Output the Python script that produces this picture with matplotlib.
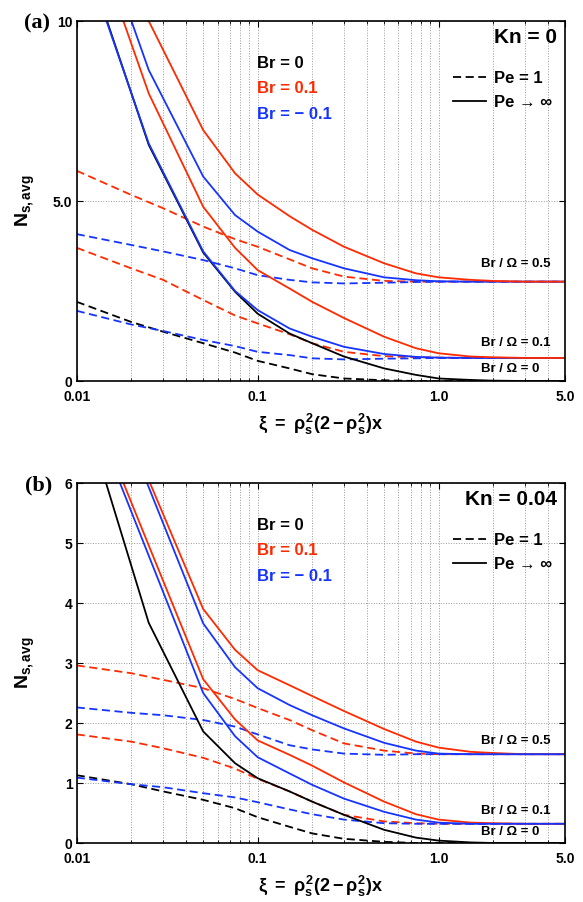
import matplotlib
matplotlib.use('Agg')
import matplotlib.pyplot as plt
from matplotlib.lines import Line2D
from matplotlib.ticker import LogLocator, NullFormatter

plt.rcParams['font.family'] = ['Liberation Sans', 'DejaVu Sans']
plt.rcParams['font.weight'] = 'bold'
plt.rcParams['mathtext.fontset'] = 'custom'
plt.rcParams['mathtext.rm'] = 'Liberation Sans:bold'
plt.rcParams['mathtext.it'] = 'Liberation Sans:bold'
plt.rcParams['mathtext.bf'] = 'Liberation Sans:bold'

RED = '#ff2a00'
BLUE = '#1634ff'

# x positions of the computed points
x_inf = [0.01, 0.025, 0.05, 0.075, 0.1, 0.15, 0.2, 0.3, 0.5, 0.75, 1.0, 1.5, 2.0, 3.0, 5.0]
x_pe1 = [0.01, 0.02, 0.03, 0.05, 0.075, 0.1, 0.15, 0.2, 0.3, 0.5, 0.75, 1.0, 1.5, 2.0, 3.0, 5.0]

# ---- (a) Kn = 0 ----
a_inf_br0 = [12.5, 6.56, 3.57, 2.48, 1.87, 1.32, 1.05, 0.68, 0.35, 0.17, 0.07, 0.03, 0.01, 0.0, 0.0]
a_inf_neg_01 = [12.4, 6.6, 3.6, 2.5, 1.97, 1.46, 1.23, 0.95, 0.75, 0.67, 0.65, 0.64, 0.64, 0.64, 0.64]
a_inf_pos_01 = [13.7, 7.99, 4.84, 3.7, 3.08, 2.57, 2.2, 1.75, 1.23, 0.91, 0.77, 0.68, 0.66, 0.64, 0.64]
a_inf_neg_05 = [14.3, 8.64, 5.68, 4.61, 4.15, 3.64, 3.41, 3.13, 2.88, 2.80, 2.77, 2.76, 2.76, 2.76, 2.76]
a_inf_pos_05 = [14.0, 10.0, 6.97, 5.77, 5.18, 4.58, 4.2, 3.73, 3.27, 2.99, 2.88, 2.81, 2.78, 2.76, 2.76]

a_pe1_br0 = [2.20, 1.64, 1.37, 1.05, 0.79, 0.56, 0.35, 0.19, 0.07, 0.02, 0.0, 0.0, 0.0, 0.0, 0.0, 0.0]
a_pe1_neg_01 = [1.95, 1.57, 1.39, 1.14, 0.97, 0.81, 0.72, 0.63, 0.60, 0.62, 0.63, 0.64, 0.64, 0.64, 0.64, 0.64]
a_pe1_pos_01 = [3.70, 3.13, 2.81, 2.25, 1.82, 1.60, 1.30, 1.05, 0.81, 0.69, 0.66, 0.65, 0.64, 0.64, 0.64, 0.64]
a_pe1_neg_05 = [4.08, 3.78, 3.60, 3.36, 3.13, 2.94, 2.81, 2.74, 2.71, 2.73, 2.75, 2.76, 2.76, 2.76, 2.76, 2.76]
a_pe1_pos_05 = [5.84, 5.17, 4.80, 4.29, 3.94, 3.73, 3.38, 3.13, 2.90, 2.78, 2.76, 2.76, 2.76, 2.76, 2.76, 2.76]

# ---- (b) Kn = 0.04 ----
b_inf_br0 = [7.6, 3.67, 1.86, 1.33, 1.08, 0.86, 0.69, 0.47, 0.22, 0.09, 0.04, 0.01, 0.0, 0.0, 0.0]
b_inf_neg_01 = [7.82, 4.79, 2.5, 1.78, 1.43, 1.16, 0.97, 0.74, 0.52, 0.39, 0.34, 0.32, 0.32, 0.32, 0.32]
b_inf_pos_01 = [7.92, 4.96, 2.73, 2.06, 1.71, 1.47, 1.29, 1.01, 0.69, 0.48, 0.39, 0.34, 0.33, 0.32, 0.32]
b_inf_neg_05 = [9.0, 5.93, 3.66, 2.93, 2.58, 2.30, 2.13, 1.91, 1.67, 1.54, 1.49, 1.48, 1.48, 1.48, 1.48]
b_inf_pos_05 = [9.2, 6.05, 3.9, 3.22, 2.88, 2.63, 2.45, 2.20, 1.90, 1.69, 1.59, 1.52, 1.50, 1.48, 1.48]

b_pe1_br0 = [1.13, 0.98, 0.86, 0.72, 0.58, 0.43, 0.27, 0.16, 0.07, 0.02, 0.0, 0.0, 0.0, 0.0, 0.0, 0.0]
b_pe1_neg_01 = [1.09, 0.98, 0.93, 0.83, 0.76, 0.68, 0.56, 0.48, 0.39, 0.33, 0.32, 0.32, 0.32, 0.32, 0.32, 0.32]
b_pe1_pos_01 = [1.81, 1.69, 1.58, 1.42, 1.24, 1.07, 0.86, 0.69, 0.47, 0.36, 0.33, 0.32, 0.32, 0.32, 0.32, 0.32]
b_pe1_neg_05 = [2.26, 2.17, 2.13, 2.05, 1.94, 1.81, 1.63, 1.56, 1.49, 1.47, 1.48, 1.48, 1.48, 1.48, 1.48, 1.48]
b_pe1_pos_05 = [2.96, 2.83, 2.72, 2.58, 2.40, 2.25, 2.05, 1.88, 1.66, 1.54, 1.49, 1.48, 1.48, 1.48, 1.48, 1.48]

x_ticks = [0.01, 0.1, 1.0, 5.0]
x_ticklabels = ['0.01', '0.1', '1.0', '5.0']
ratio_labels = ['Br / \u03a9 = 0.5', 'Br / \u03a9 = 0.1', 'Br / \u03a9 = 0']

DASH = (0, (4.5, 2.5))
LW = 1.3


def draw_panel(ax, inf_curves, pe1_curves, ymax, yticks, yticklabels, kn_text, ratio_y):
    # Pe = 1 dashed, Pe -> inf solid
    for ys, c in pe1_curves:
        ax.plot(x_pe1, ys, color=c, lw=LW, ls=DASH)
    for ys, c in inf_curves:
        ax.plot(x_inf, ys, color=c, lw=LW)

    ax.set_xscale('log')
    ax.set_xlim(0.01, 5.0)
    ax.set_ylim(0, ymax)
    ax.set_xticks(x_ticks)
    ax.set_xticklabels(x_ticklabels)
    ax.xaxis.set_minor_locator(LogLocator(base=10, subs=range(2, 10)))
    ax.xaxis.set_minor_formatter(NullFormatter())
    ax.set_yticks(yticks)
    ax.set_yticklabels(yticklabels)
    ax.tick_params(which='major', direction='in', top=True, right=True,
                   length=4, width=0.8, labelsize=10)
    ax.tick_params(axis='x', which='major', pad=6.5)
    ax.tick_params(axis='y', which='major', pad=3)
    ax.tick_params(which='minor', direction='in', top=True, right=True,
                   length=2, width=0.6)
    ax.grid(True, which='both', axis='x', ls=':', color='0.6', lw=0.7)
    ax.grid(True, which='major', axis='y', ls=':', color='0.6', lw=0.7)
    for s in ax.spines.values():
        s.set_linewidth(1.2)

    ax.set_xlabel(r'$\xi\ =\ \rho_s^2(2-\rho_s^2)x$', fontsize=13, va='top')
    ax.xaxis.set_label_coords(0.5, -0.085)
    ax.set_ylabel(r'$N_{s,avg}$', fontsize=14)
    ax.yaxis.set_label_coords(-0.082, 0.5)

    ax.text(0.984, 0.955, kn_text, transform=ax.transAxes, ha='right',
            va='center', fontsize=15, fontweight='bold')
    ax.text(0.37, 0.882, 'Br = 0', color='black', transform=ax.transAxes,
            va='center', fontsize=12, fontweight='bold')
    ax.text(0.37, 0.813, 'Br = 0.1', color=RED, transform=ax.transAxes,
            va='center', fontsize=12, fontweight='bold')
    ax.text(0.37, 0.740, 'Br = \u2212 0.1', color=BLUE, transform=ax.transAxes,
            va='center', fontsize=12, fontweight='bold')

    handles = [Line2D([], [], color='black', lw=LW, ls=DASH),
               Line2D([], [], color='black', lw=LW)]
    ax.legend(handles, ['Pe = 1', 'Pe \u2192 \u221e'], loc='upper left',
              bbox_to_anchor=(0.77, 0.862), frameon=False, fontsize=12,
              handlelength=2.0, handletextpad=0.5, labelspacing=0.55,
              borderpad=0, borderaxespad=0)

    tr = ax.get_yaxis_transform()
    for lab, yy in zip(ratio_labels, ratio_y):
        ax.text(0.828, yy, lab, transform=tr, ha='left', va='center',
                fontsize=9.5, fontweight='bold')


fig = plt.figure(figsize=(5.83, 9.02), dpi=100)
ax_a = fig.add_axes([0.1316, 0.5776, 0.8376, 0.3991])
ax_b = fig.add_axes([0.1316, 0.0654, 0.8376, 0.3991])

draw_panel(ax_a,
           [(a_inf_br0, 'black'), (a_inf_neg_01, BLUE), (a_inf_pos_01, RED),
            (a_inf_neg_05, BLUE), (a_inf_pos_05, RED)],
           [(a_pe1_br0, 'black'), (a_pe1_pos_01, RED), (a_pe1_neg_01, BLUE),
            (a_pe1_pos_05, RED), (a_pe1_neg_05, BLUE)],
           10, [0, 5, 10], ['0', '5.0', '10'], 'Kn = 0', [3.24, 1.05, 0.33])

draw_panel(ax_b,
           [(b_inf_br0, 'black'), (b_inf_pos_01, RED), (b_inf_neg_01, BLUE),
            (b_inf_pos_05, RED), (b_inf_neg_05, BLUE)],
           [(b_pe1_br0, 'black'), (b_pe1_pos_01, RED), (b_pe1_neg_01, BLUE),
            (b_pe1_pos_05, RED), (b_pe1_neg_05, BLUE)],
           6, [0, 1, 2, 3, 4, 5, 6], ['0', '1', '2', '3', '4', '5', '6'],
           'Kn = 0.04', [1.70, 0.54, 0.18])

fig.text(0.063, 0.9745, '(a)', family='Liberation Serif', fontweight='bold',
         fontsize=16, ha='center', va='center')
fig.text(0.066, 0.4623, '(b)', family='Liberation Serif', fontweight='bold',
         fontsize=16, ha='center', va='center')

fig.savefig('out.png', dpi=100)
